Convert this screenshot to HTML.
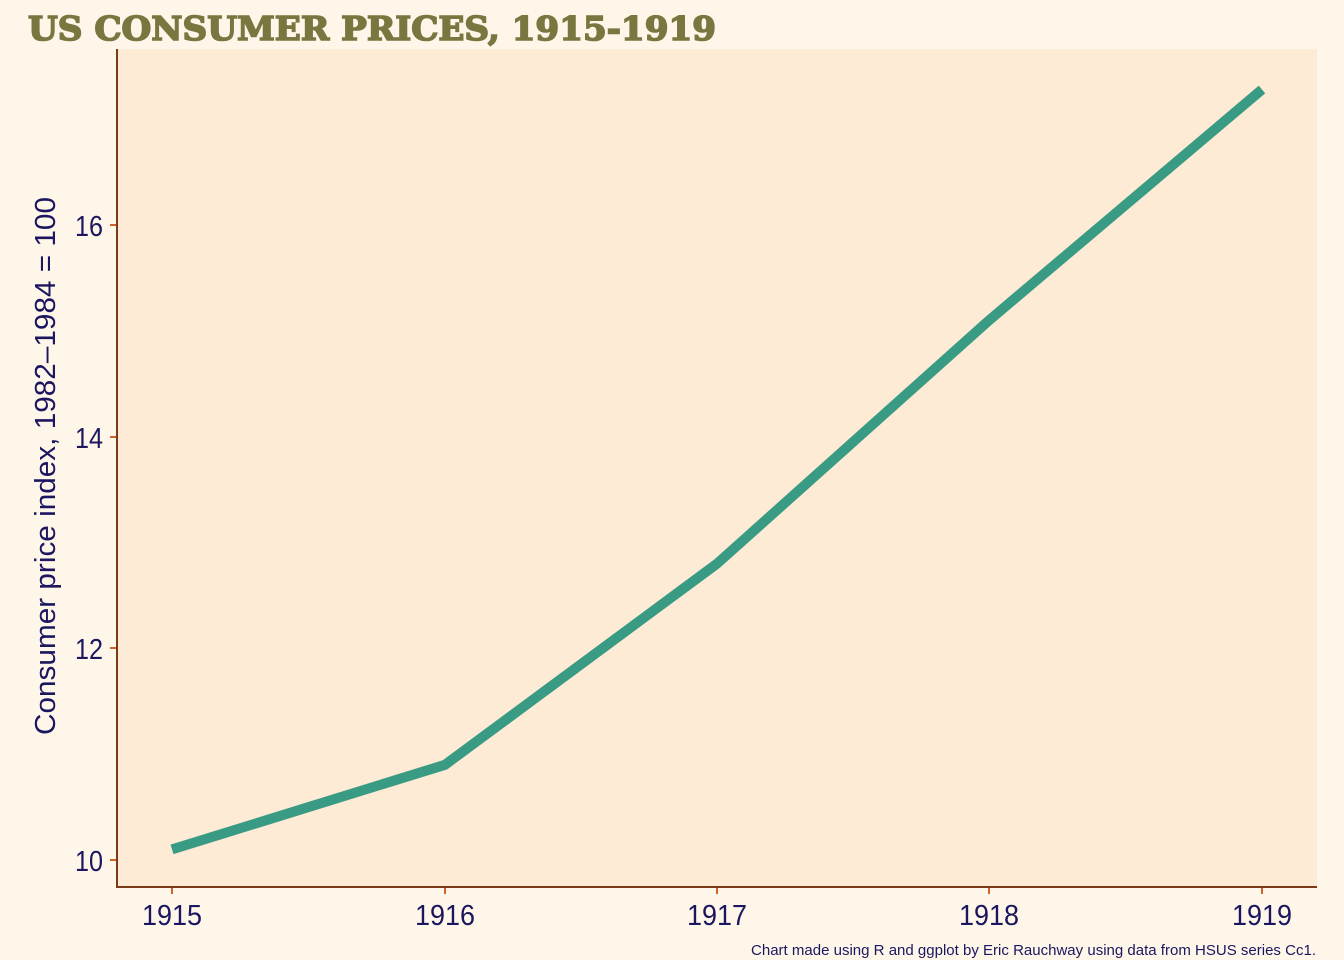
<!DOCTYPE html>
<html><head><meta charset="utf-8"><style>
html,body{margin:0;padding:0;background:#fef7e9;}
svg{display:block;}
</style></head><body>
<svg width="1344" height="960" viewBox="0 0 1344 960" xmlns="http://www.w3.org/2000/svg">
<rect x="0" y="0" width="1344" height="960" fill="#fef7e9"/>
<rect x="117" y="49" width="1200" height="838" fill="#feebd5"/>
<text x="28" y="40" font-family="'DejaVu Serif', serif" font-weight="bold" font-size="33" fill="#7a7640" stroke="#7a7640" stroke-width="1.6" textLength="688" lengthAdjust="spacingAndGlyphs">US CONSUMER PRICES, 1915-1919</text>
<line x1="117" y1="49" x2="117" y2="888" stroke="#7d3a1a" stroke-width="2"/>
<line x1="116" y1="887" x2="1317" y2="887" stroke="#7d3a1a" stroke-width="2"/>
<g stroke="#d2622a" stroke-width="2">
<line x1="110" y1="860" x2="116" y2="860"/>
<line x1="110" y1="648" x2="116" y2="648"/>
<line x1="110" y1="437" x2="116" y2="437"/>
<line x1="110" y1="225" x2="116" y2="225"/>
<line x1="172" y1="888" x2="172" y2="894"/>
<line x1="445" y1="888" x2="445" y2="894"/>
<line x1="717" y1="888" x2="717" y2="894"/>
<line x1="989" y1="888" x2="989" y2="894"/>
<line x1="1262" y1="888" x2="1262" y2="894"/>
</g>
<g font-family="'Liberation Sans', sans-serif" font-size="29" fill="#1c1660" text-anchor="end">
<text x="103" y="871" textLength="28" lengthAdjust="spacingAndGlyphs">10</text>
<text x="103" y="659" textLength="28" lengthAdjust="spacingAndGlyphs">12</text>
<text x="103" y="448" textLength="28" lengthAdjust="spacingAndGlyphs">14</text>
<text x="103" y="236" textLength="28" lengthAdjust="spacingAndGlyphs">16</text>
</g>
<g font-family="'Liberation Sans', sans-serif" font-size="29" fill="#1c1660" text-anchor="middle">
<text x="172" y="925" textLength="60" lengthAdjust="spacingAndGlyphs">1915</text>
<text x="445" y="925" textLength="60" lengthAdjust="spacingAndGlyphs">1916</text>
<text x="717" y="925" textLength="60" lengthAdjust="spacingAndGlyphs">1917</text>
<text x="989" y="925" textLength="60" lengthAdjust="spacingAndGlyphs">1918</text>
<text x="1262" y="925" textLength="60" lengthAdjust="spacingAndGlyphs">1919</text>
</g>
<text transform="translate(55,466) rotate(-90)" font-family="'Liberation Sans', sans-serif" font-size="29" fill="#1c1660" text-anchor="middle" textLength="538" lengthAdjust="spacingAndGlyphs">Consumer price index, 1982–1984 = 100</text>
<polyline points="172,849.4 445,764.8 717,563.7 989,320.4 1262,89.5" fill="none" stroke="#3a9b84" stroke-width="10" stroke-linejoin="round" stroke-linecap="butt"/>
<text x="1316" y="955" font-family="'Liberation Sans', sans-serif" font-size="14.5" fill="#1c1660" text-anchor="end" textLength="565" lengthAdjust="spacingAndGlyphs">Chart made using R and ggplot by Eric Rauchway using data from HSUS series Cc1.</text>
</svg>
</body></html>
